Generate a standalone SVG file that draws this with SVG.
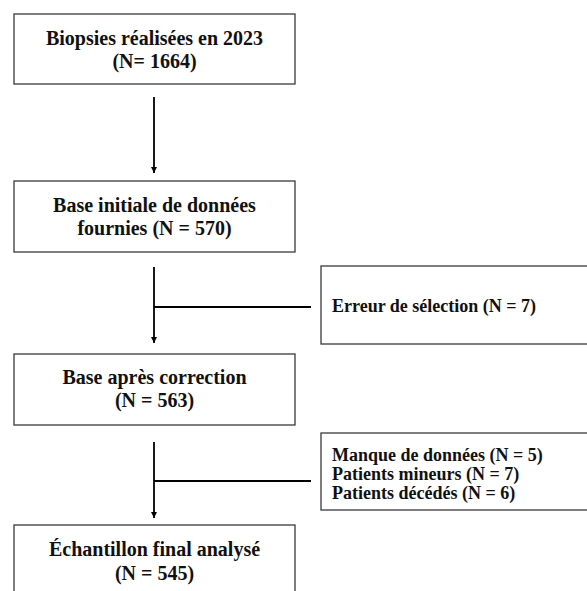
<svg xmlns="http://www.w3.org/2000/svg" width="587" height="591" viewBox="0 0 587 591">
<style>
.box{fill:#fff;stroke:#3a3a3a;stroke-width:1.3}
.t{font-family:"Liberation Serif","Times New Roman",serif;font-weight:bold;fill:#111}
.m{font-size:20px;text-anchor:middle}
.s{font-size:18px}
.c{fill:none;stroke:#000;stroke-width:1.8}
</style>
<defs>
<marker id="ah" viewBox="0 0 10 10" refX="10" refY="5" markerWidth="6" markerHeight="6" markerUnits="userSpaceOnUse" orient="auto">
<path d="M0,0 L10,5 L0,10 z" fill="#000"/>
</marker>
</defs>
<rect width="587" height="591" fill="#fff"/>
<g id="connectors">
<line class="c" x1="154" y1="97" x2="154" y2="173" marker-end="url(#ah)"/>
<line class="c" x1="154" y1="267" x2="154" y2="343" marker-end="url(#ah)"/>
<line class="c" x1="154" y1="307" x2="311" y2="307"/>
<line class="c" x1="154" y1="442" x2="154" y2="518" marker-end="url(#ah)"/>
<line class="c" x1="154" y1="481" x2="311" y2="481"/>
</g>
<g id="n1">
<rect class="box" x="14" y="14" width="281" height="70"/>
<text class="t m" x="154.5" y="45">Biopsies réalisées en 2023</text>
<text class="t m" x="154.5" y="68">(N= 1664)</text>
</g>
<g id="n2">
<rect class="box" x="14" y="181" width="281" height="71"/>
<text class="t m" x="154.5" y="212">Base initiale de données</text>
<text class="t m" x="154.5" y="235">fournies (N = 570)</text>
</g>
<g id="n3">
<rect class="box" x="14" y="354" width="281" height="71"/>
<text class="t m" x="154.5" y="384">Base après correction</text>
<text class="t m" x="154.5" y="407">(N = 563)</text>
</g>
<g id="n4">
<rect class="box" x="14" y="525" width="281" height="80"/>
<text class="t m" x="154.5" y="556">Échantillon final analysé</text>
<text class="t m" x="154.5" y="580">(N = 545)</text>
</g>
<g id="e1">
<rect class="box" x="321" y="266" width="280" height="78"/>
<text class="t s" x="332" y="312">Erreur de sélection (N = 7)</text>
</g>
<g id="e2">
<rect class="box" x="321" y="433" width="280" height="77"/>
<text class="t s" x="332" y="461">Manque de données (N = 5)</text>
<text class="t s" x="332" y="480">Patients mineurs (N = 7)</text>
<text class="t s" x="332" y="499">Patients décédés (N = 6)</text>
</g>
</svg>
